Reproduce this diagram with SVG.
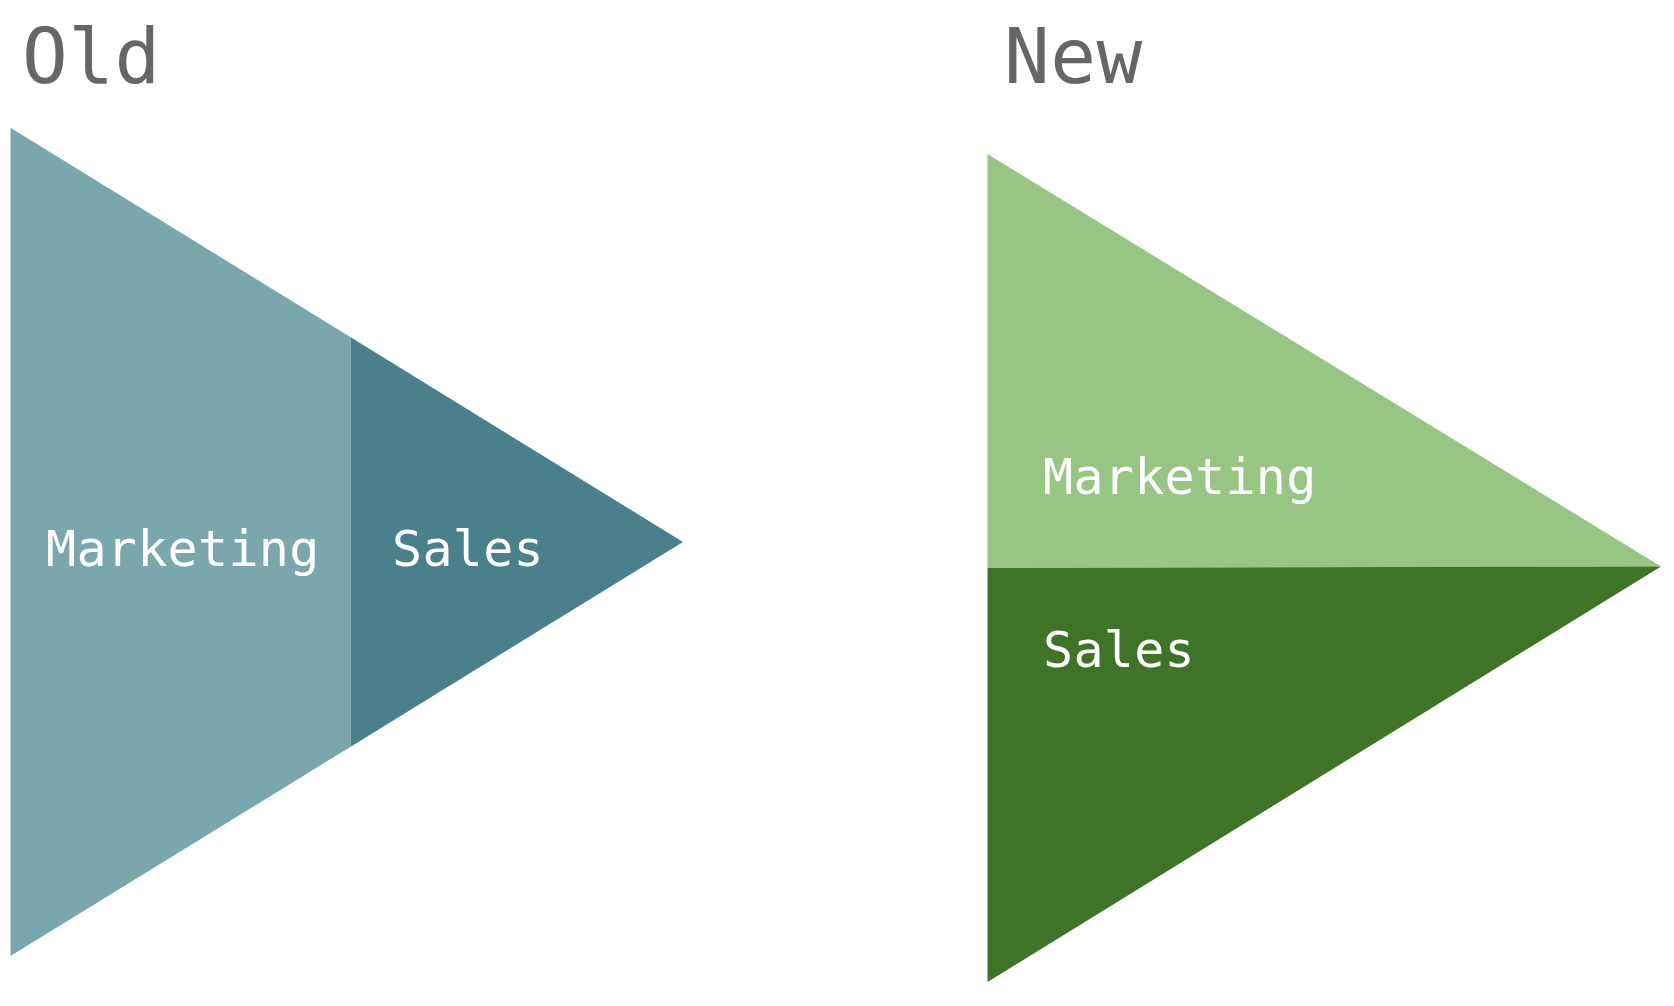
<svg xmlns="http://www.w3.org/2000/svg" width="1674" height="1006" viewBox="0 0 1674 1006">
  <style>
    .title { font-family: "DejaVu Sans Mono", "Liberation Mono", monospace; font-size: 76px; fill: #666666; letter-spacing: 0.5px; }
    .label { font-family: "DejaVu Sans Mono", "Liberation Mono", monospace; font-size: 50px; fill: #ffffff; letter-spacing: 0.3px; }
  </style>
  <rect width="1674" height="1006" fill="#ffffff"/>
  <g id="title-old"><text class="title" x="22" y="83">Old</text></g>
  <g id="title-new"><text class="title" x="1004" y="83">New</text></g>
  <g id="old-marketing">
    <polygon points="10.5,127.7 350.7,337.3 350.7,746.7 10.5,956" fill="#7aa6ae"/>
    <text class="label" x="46" y="566">Marketing</text>
  </g>
  <g id="old-sales">
    <polygon points="350.7,337.3 683,542 350.7,746.7" fill="#49808b"/>
    <text class="label" x="392" y="566">Sales</text>
  </g>
  <g id="new-marketing">
    <polygon points="987.5,154 1661,566.5 987.5,568" fill="#98c484"/>
    <text class="label" x="1043" y="494">Marketing</text>
  </g>
  <g id="new-sales">
    <polygon points="987.5,568 1661,566.5 987.5,982" fill="#3f7428"/>
    <text class="label" x="1043" y="667">Sales</text>
  </g>
  <g id="connectors"></g>
</svg>
